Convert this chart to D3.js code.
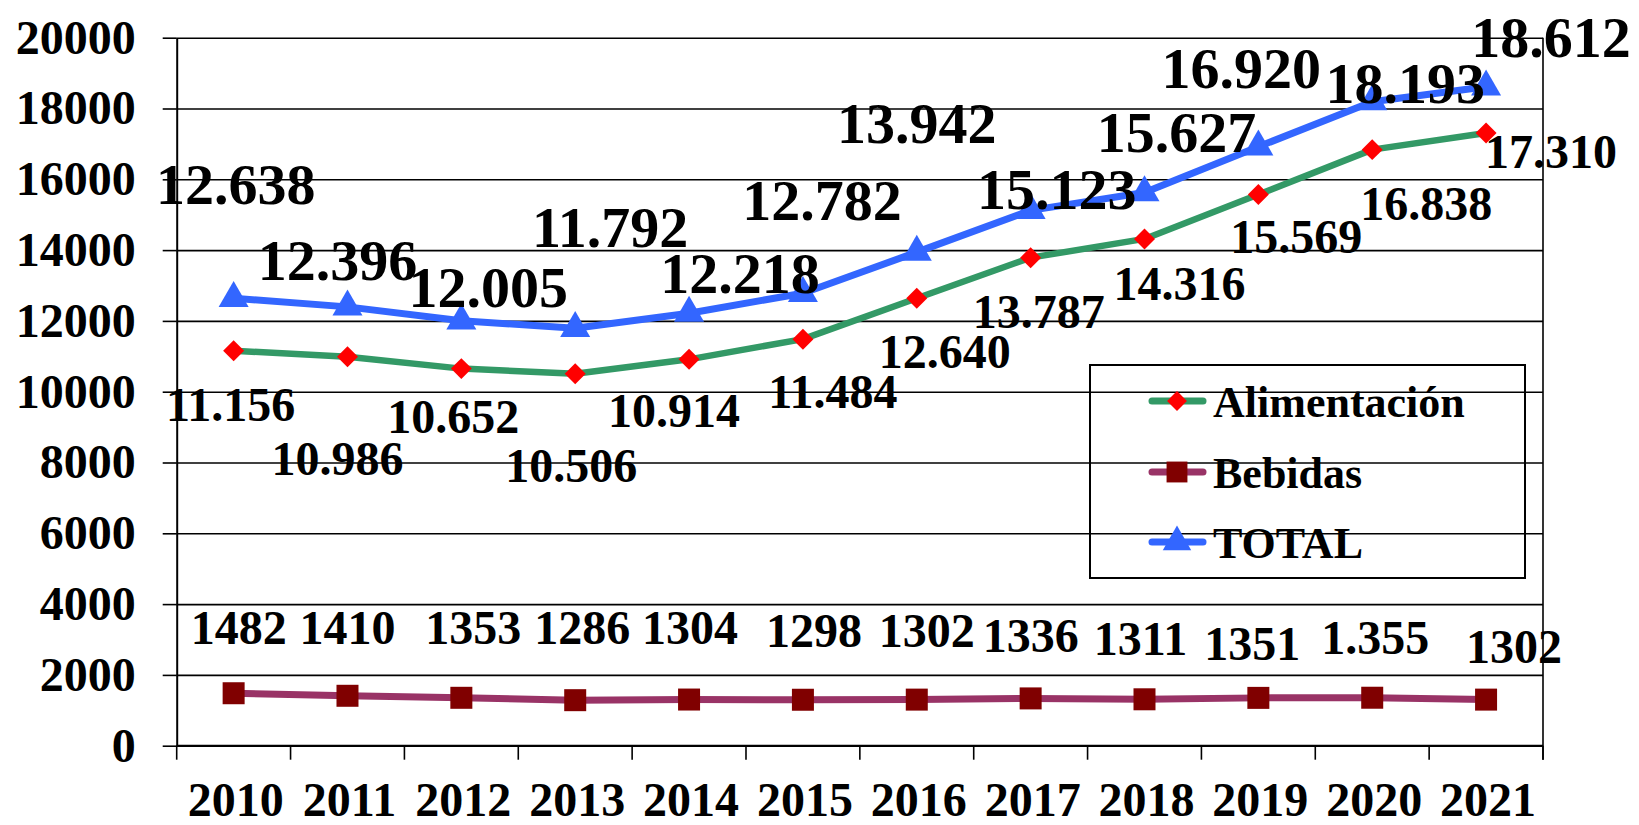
<!DOCTYPE html>
<html>
<head>
<meta charset="utf-8">
<script src="https://cdn.jsdelivr.net/npm/d3@7"></script>
<style>
  body { margin: 0; background: #fff; }
  svg { display: block; }
  text { font-family: "Liberation Serif", "Times New Roman", serif; font-weight: bold; fill: #000; }
</style>
</head>
<body>
<svg id="chart" width="1639" height="825"></svg>
<script>
// data
var years = ["2010", "2011", "2012", "2013", "2014", "2015", "2016", "2017", "2018", "2019", "2020", "2021"];
var alimentacion = [11156, 10986, 10652, 10506, 10914, 11484, 12640, 13787, 14316, 15569, 16838, 17310];
var bebidas = [1482, 1410, 1353, 1286, 1304, 1298, 1302, 1336, 1311, 1351, 1355, 1302];
var total = [12638, 12396, 12005, 11792, 12218, 12782, 13942, 15123, 15627, 16920, 18193, 18612];
var alimentacionLabels = ["11.156", "10.986", "10.652", "10.506", "10.914", "11.484", "12.640", "13.787", "14.316", "15.569", "16.838", "17.310"];
var bebidasLabels = ["1482", "1410", "1353", "1286", "1304", "1298", "1302", "1336", "1311", "1351", "1.355", "1302"];
var totalLabels = ["12.638", "12.396", "12.005", "11.792", "12.218", "12.782", "13.942", "15.123", "15.627", "16.920", "18.193", "18.612"];
var yTicks = [0, 2000, 4000, 6000, 8000, 10000, 12000, 14000, 16000, 18000, 20000];
var seriesNames = ["Alimentación", "Bebidas", "TOTAL"];

// hand placed data labels (dx, dy from the point), like the dragged labels of the original
var alimentacionNudge = [[-3, 70], [-10, 118], [-8, 64], [-4, 108], [-15, 68], [30, 69], [28, 70], [8, 70], [35, 61], [38, 58], [54, 70], [65, 35]];
var bebidasNudge = [[5, -49], [0, -52], [12, -54], [7, -56], [1, -56], [11, -53], [10, -53], [0, -46], [-4, -44], [-6, -38], [3, -44], [28, -37]];
var totalNudge = [[2, -94], [-10, -27], [27, -14], [35, -81], [51, -20], [19, -73], [0, -109], [26, -1], [32, -41], [-17, -59], [33, 1], [65, -30]];

var plotLeft = 176.7, plotRight = 1543, plotTop = 37.7, plotBottom = 745.7;

var svg = d3.select("#chart");

var x = d3.scaleBand().domain(years).range([plotLeft, plotRight]);
var y = d3.scaleLinear().domain([0, 20000]).range([plotBottom, plotTop]);

function cx(i) { return x(years[i]) + x.bandwidth() / 2; }

// gridlines
svg.append("g")
  .attr("transform", "translate(" + plotLeft + ",0)")
  .call(d3.axisLeft(y).tickValues(yTicks).tickSize(-(plotRight - plotLeft)).tickFormat(""))
  .call(function(g) {
    g.select(".domain").remove();
    g.selectAll("line").attr("stroke", "#000").attr("stroke-width", 1.6);
  });

// right border of the plot
svg.append("line")
  .attr("x1", plotRight).attr("x2", plotRight)
  .attr("y1", plotTop).attr("y2", plotBottom + 14)
  .attr("stroke", "#000").attr("stroke-width", 1.6);

// y axis
svg.append("g")
  .attr("transform", "translate(" + plotLeft + ",0)")
  .call(d3.axisLeft(y).tickValues(yTicks).tickFormat(d3.format("d"))
    .tickSize(14).tickPadding(27).tickSizeOuter(0))
  .call(function(g) {
    g.select(".domain").attr("stroke", "#000").attr("stroke-width", 2);
    g.selectAll("line").attr("stroke", "#000").attr("stroke-width", 1.6);
    g.selectAll("text")
      .attr("font-size", 48)
      .attr("font-family", null)
      .attr("dy", "0.32em");
  });

// x axis: ticks sit between categories
var xAxis = svg.append("g").attr("transform", "translate(0," + plotBottom + ")");
xAxis.append("line")
  .attr("x1", plotLeft).attr("x2", plotRight)
  .attr("stroke", "#000").attr("stroke-width", 2);
xAxis.selectAll("line.tick")
  .data(d3.range(years.length + 1))
  .enter().append("line")
  .attr("class", "tick")
  .attr("x1", function(d) { return plotLeft + d * x.step(); })
  .attr("x2", function(d) { return plotLeft + d * x.step(); })
  .attr("y1", 0).attr("y2", 14)
  .attr("stroke", "#000").attr("stroke-width", 1.6);
xAxis.selectAll("text")
  .data(years)
  .enter().append("text")
  .attr("x", function(d, i) { return cx(i) + 2; })
  .attr("y", 70)
  .attr("text-anchor", "middle")
  .attr("font-size", 48)
  .text(function(d) { return d; });

// series
var series = [
  { name: "Alimentación", values: alimentacion, line: "#339966", width: 6.5,
    symbol: d3.symbolSquare, size: 220, rotate: 45, fill: "#ff0000" },
  { name: "Bebidas", values: bebidas, line: "#993366", width: 7,
    symbol: d3.symbolSquare, size: 484, rotate: 0, fill: "#800000" },
  { name: "TOTAL", values: total, line: "#3366ff", width: 7,
    symbol: d3.symbolTriangle, size: 390, rotate: 0, fill: "#3366ff" }
];

var line = d3.line()
  .x(function(d, i) { return cx(i); })
  .y(function(d) { return y(d); });

series.forEach(function(s) {
  svg.append("path")
    .attr("d", line(s.values))
    .attr("fill", "none")
    .attr("stroke", s.line)
    .attr("stroke-width", s.width)
    .attr("stroke-linejoin", "round");

  svg.append("g").selectAll("path")
    .data(s.values)
    .enter().append("path")
    .attr("d", d3.symbol().type(s.symbol).size(s.size))
    .attr("transform", function(d, i) {
      return "translate(" + cx(i) + "," + y(d) + ") rotate(" + s.rotate + ")";
    })
    .attr("fill", s.fill);
});

// data labels
function addLabels(values, labels, nudge, size) {
  svg.append("g").selectAll("text")
    .data(values)
    .enter().append("text")
    .attr("x", function(d, i) { return cx(i) + nudge[i][0]; })
    .attr("y", function(d, i) { return y(d) + nudge[i][1]; })
    .attr("text-anchor", "middle")
    .attr("font-size", size)
    .text(function(d, i) { return labels[i]; });
}
addLabels(alimentacion, alimentacionLabels, alimentacionNudge, 48);
addLabels(bebidas, bebidasLabels, bebidasNudge, 48);
addLabels(total, totalLabels, totalNudge, 58);

// legend (no fill, gridlines show through)
var legend = svg.append("g");
legend.append("rect")
  .attr("x", 1090).attr("y", 365)
  .attr("width", 435).attr("height", 213)
  .attr("fill", "none")
  .attr("stroke", "#000").attr("stroke-width", 2);

var rowY = [401, 472, 542];
var item = legend.selectAll("g.item")
  .data(series)
  .enter().append("g")
  .attr("class", "item")
  .attr("transform", function(d, i) { return "translate(1177," + rowY[i] + ")"; });

item.append("line")
  .attr("x1", -25).attr("x2", 26)
  .attr("stroke", function(d) { return d.line; })
  .attr("stroke-width", 7)
  .attr("stroke-linecap", "round");

item.append("path")
  .attr("d", function(d) { return d3.symbol().type(d.symbol).size(d.size * 0.9)(); })
  .attr("transform", function(d) { return "rotate(" + d.rotate + ")"; })
  .attr("fill", function(d) { return d.fill; });

item.append("text")
  .attr("x", 36)
  .attr("y", 16)
  .attr("font-size", 44)
  .text(function(d, i) { return seriesNames[i]; });
</script>
</body>
</html>
